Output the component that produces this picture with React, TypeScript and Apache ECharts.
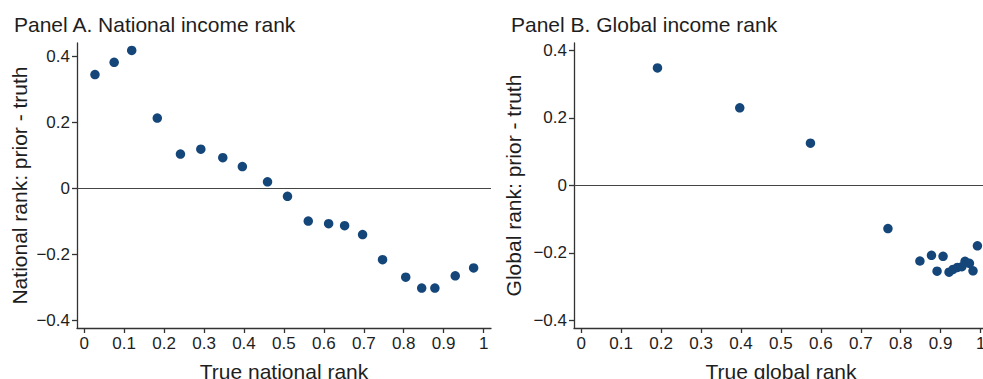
import React, { useEffect, useRef } from "react";
import * as echarts from "echarts";

// Panel A: national income rank
const nationalX = [0.027, 0.075, 0.119, 0.183, 0.241, 0.292, 0.347, 0.396, 0.459, 0.509, 0.561, 0.612, 0.652, 0.697, 0.747, 0.805, 0.845, 0.878, 0.929, 0.975];
const nationalY = [0.345, 0.382, 0.418, 0.213, 0.104, 0.119, 0.093, 0.066, 0.020, -0.024, -0.099, -0.107, -0.113, -0.140, -0.216, -0.269, -0.302, -0.302, -0.265, -0.241];

// Panel B: global income rank
const globalX = [0.191, 0.397, 0.574, 0.768, 0.848, 0.877, 0.891, 0.906, 0.921, 0.931, 0.942, 0.953, 0.961, 0.972, 0.981, 0.992];
const globalY = [0.348, 0.230, 0.125, -0.128, -0.224, -0.207, -0.254, -0.210, -0.257, -0.249, -0.243, -0.241, -0.225, -0.231, -0.253, -0.179];

const xTicks = [0, 0.1, 0.2, 0.3, 0.4, 0.5, 0.6, 0.7, 0.8, 0.9, 1];
const yTicks = [-0.4, -0.2, 0, 0.2, 0.4];

const titles = ["Panel A. National income rank", "Panel B. Global income rank"];
const xNames = ["True national rank", "True global rank"];
const yNames = ["National rank: prior - truth", "Global rank: prior - truth"];

const FONT = "Liberation Sans, Arial, Helvetica, sans-serif";
const TEXT = "#1e1e1e";
const AXIS = "#333";
const DOT = "#15467a";

function fmt(v: number) {
  const s = String(Math.round(v * 10) / 10);
  return s.replace("-", "\u2212");
}

export default function App() {
  const ref = useRef<HTMLDivElement>(null);
  useEffect(() => {
    document.body.style.margin = "0";
    document.body.style.overflow = "hidden";
    if (!ref.current) return;
    const chart = echarts.init(ref.current, null, { renderer: "svg" });
    const grids = [
      { left: 77, top: 43, width: 414, height: 285, outerBoundsMode: "none", containLabel: false },
      { left: 574, top: 43, width: 414, height: 285, outerBoundsMode: "none", containLabel: false },
    ];
    const yRanges = [
      [-0.423, 0.4406],
      [-0.4225, 0.422],
    ];
    const yGaps = [47, 50];
    const mkX = (i: number) => ({
      type: "value",
      gridIndex: i,
      min: -0.018,
      max: 1.0185,
      name: xNames[i],
      nameLocation: "middle",
      nameGap: 33,
      nameTextStyle: { fontSize: 21, color: TEXT, fontFamily: FONT },
      axisLine: { show: true, onZero: false, lineStyle: { color: AXIS, width: 1.3 } },
      axisTick: { show: true, length: 5, lineStyle: { color: AXIS, width: 1.3 }, customValues: xTicks },
      axisLabel: { fontSize: 17, color: TEXT, fontFamily: FONT, margin: 7, customValues: xTicks, formatter: (v: number) => fmt(v) },
      splitLine: { show: false },
    });
    const mkY = (i: number) => ({
      type: "value",
      gridIndex: i,
      min: yRanges[i][0],
      max: yRanges[i][1],
      name: yNames[i],
      nameLocation: "middle",
      nameGap: yGaps[i],
      nameTextStyle: { fontSize: 21, color: TEXT, fontFamily: FONT },
      axisLine: { show: true, onZero: false, lineStyle: { color: AXIS, width: 1.3 } },
      axisTick: { show: true, length: 5, lineStyle: { color: AXIS, width: 1.3 }, customValues: yTicks },
      axisLabel: { fontSize: 17, color: TEXT, fontFamily: FONT, margin: 7, customValues: yTicks, formatter: (v: number) => fmt(v) },
      splitLine: { show: false },
    });
    const zeroLine = {
      silent: true,
      symbol: ["none", "none"],
      label: { show: false },
      lineStyle: { color: "#444", width: 1.2, type: "solid" },
      data: [{ yAxis: 0 }],
    };
    chart.setOption({
      animation: false,
      backgroundColor: "#fff",
      title: [
        { text: titles[0], left: 9, top: 9, textStyle: { fontSize: 21, fontWeight: "normal", color: TEXT, fontFamily: FONT } },
        { text: titles[1], left: 506, top: 9, textStyle: { fontSize: 21, fontWeight: "normal", color: TEXT, fontFamily: FONT } },
      ],
      grid: grids,
      xAxis: [mkX(0), mkX(1)],
      yAxis: [mkY(0), mkY(1)],
      series: [
        {
          type: "scatter",
          xAxisIndex: 0,
          yAxisIndex: 0,
          symbolSize: 9.5,
          itemStyle: { color: DOT, opacity: 1 },
          data: nationalX.map((x, k) => [x, nationalY[k]]),
          markLine: zeroLine,
        },
        {
          type: "scatter",
          xAxisIndex: 1,
          yAxisIndex: 1,
          symbolSize: 9.5,
          itemStyle: { color: DOT, opacity: 1 },
          data: globalX.map((x, k) => [x, globalY[k]]),
          markLine: zeroLine,
        },
      ],
    });
    return () => chart.dispose();
  }, []);
  return (
    <div style={{ width: 983, height: 379, overflow: "hidden", position: "relative" }}>
      <div ref={ref} style={{ width: 1000, height: 379 }} />
    </div>
  );
}
